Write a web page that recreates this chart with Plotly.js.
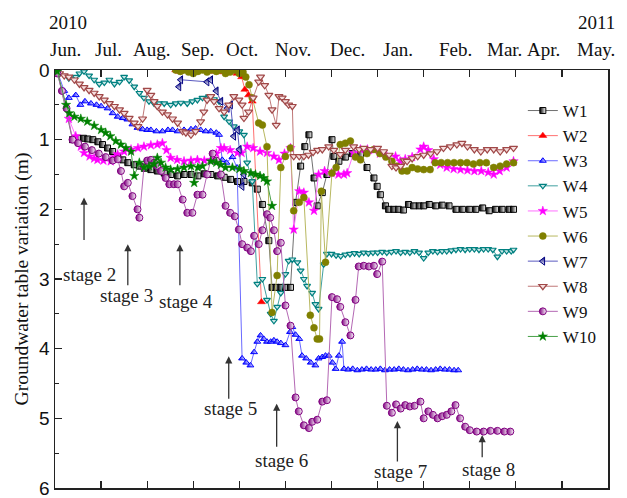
<!DOCTYPE html>
<html>
<head>
<meta charset="utf-8">
<script src="https://cdn.plot.ly/plotly-3.0.1.min.js"></script>
<style>
  html, body { margin: 0; padding: 0; background: #fff; }
  #chart { width: 627px; height: 498px; }
</style>
</head>
<body>
<div id="chart"></div>
<script>
// Groundwater table variation of wells W1-W10, June 2010 - May 2011.
// Time is measured in months after 1 June 2010; depth in metres below the initial level.

const monthLabels = ['Jun.', 'Jul.', 'Aug.', 'Sep.', 'Oct.', 'Nov.', 'Dec.', 'Jan.', 'Feb.', 'Mar.', 'Apr.', 'May.'];
const yearLabels = ['2010', '2011'];
const wellNames = ['W1', 'W2', 'W3', 'W4', 'W5', 'W6', 'W7', 'W8', 'W9', 'W10'];
const stageLabels = ['stage 2', 'stage 3', 'stage 4', 'stage 5', 'stage 6', 'stage 7', 'stage 8'];

const w1Month = [0.05,0.38,0.5,0.62,0.71,0.82,0.93,1.03,1.14,1.25,1.36,1.47,1.58,1.72,1.83,1.94,2.08,2.22,2.37,2.51,2.66,2.8,2.95,3.1,3.24,3.38,3.53,3.67,3.81,3.96,4.1,4.28,4.39,4.5,4.64,4.71,4.8,4.9,5.0,5.11,5.22,5.33,5.42,5.51,5.62,5.69,5.8,5.9,6.01,6.05,6.16,6.3,6.45,6.63,6.77,6.92,6.99,7.06,7.17,7.24,7.35,7.45,7.56,7.67,7.78,7.9,8.0,8.12,8.26,8.4,8.55,8.7,8.84,8.99,9.13,9.28,9.42,9.56,9.7,9.85,9.95];
const w1Depth = [0.02,1.0,0.98,0.98,0.99,1.0,1.03,1.07,1.12,1.17,1.24,1.29,1.33,1.36,1.38,1.41,1.43,1.45,1.48,1.5,1.52,1.5,1.5,1.52,1.49,1.5,1.52,1.54,1.57,1.6,1.6,1.62,1.71,1.93,2.45,3.12,3.12,3.12,3.12,3.12,1.9,1.38,1.1,0.93,1.55,1.95,1.76,1.5,1.0,1.24,1.31,1.25,1.2,1.21,1.4,1.55,1.67,1.79,1.95,2.0,2.0,2.0,2.01,1.93,1.95,1.95,1.95,1.93,1.95,1.94,1.95,2.0,2.0,2.0,2.0,1.98,2.02,2.0,2.0,2.0,2.0];

const w2Month = [2.62,2.7,2.78,2.86,2.95,3.05,3.15,3.25,3.35,3.45,3.55,3.65,3.75,3.85,3.95,4.05,4.12,4.2,4.28,4.48];
const w2Depth = [0.0,0.02,0.0,0.0,0.02,0.0,0.0,0.0,0.02,0.0,0.0,0.03,0.0,0.02,0.05,0.1,0.28,0.36,0.45,3.33];

const w3Month = [0.05,0.2,0.3,0.45,0.55,0.65,0.78,0.9,1.0,1.14,1.25,1.36,1.47,1.57,1.68,1.79,1.9,2.0,2.08,2.2,2.33,2.45,2.55,2.66,2.8,2.95,3.05,3.16,3.27,3.38,3.5,3.56,3.63,3.72,3.85,3.95,4.06,4.15,4.24,4.32,4.39,4.46,4.53,4.6,4.68,4.75,4.82,4.9,5.0,5.1,5.15,5.22,5.3,5.36,5.45,5.55,5.65,5.72,5.8,5.87,5.94,6.02,6.09,6.16,6.23,6.27,6.36,6.46,6.56,6.66,6.76,6.86,6.96,7.06,7.16,7.26,7.36,7.46,7.56,7.66,7.76,7.86,7.96,8.06,8.16,8.26,8.36,8.46,8.56,8.66,8.75];
const w3Depth = [0.02,0.3,0.4,0.36,0.5,0.45,0.48,0.5,0.52,0.55,0.62,0.67,0.69,0.71,0.78,0.83,0.85,0.86,0.86,0.88,0.88,0.86,0.86,0.88,0.86,0.85,0.84,0.86,0.88,0.88,0.9,0.93,1.29,1.33,1.25,1.4,4.14,4.2,4.24,4.05,3.9,3.81,3.86,3.9,3.9,3.88,3.9,3.92,3.95,3.76,3.69,3.8,3.86,4.1,4.14,4.2,4.24,4.14,4.12,4.1,4.1,4.2,4.29,4.1,3.9,4.29,4.3,4.29,4.31,4.3,4.29,4.3,4.3,4.29,4.31,4.3,4.3,4.29,4.3,4.31,4.3,4.29,4.3,4.3,4.31,4.3,4.29,4.3,4.3,4.31,4.31];

const w4Month = [0.05,0.3,0.45,0.53,0.63,0.74,0.85,0.96,1.07,1.18,1.29,1.4,1.5,1.61,1.72,1.83,1.93,2.04,2.15,2.26,2.37,2.51,2.62,2.73,2.87,2.98,3.09,3.2,3.34,3.45,3.56,3.67,3.78,3.88,4.0,4.1,4.17,4.28,4.39,4.5,4.6,4.68,4.75,4.82,4.9,5.0,5.07,5.15,5.26,5.33,5.4,5.47,5.58,5.65,5.72,5.83,5.9,6.0,6.1,6.2,6.3,6.4,6.5,6.6,6.7,6.8,6.9,7.0,7.1,7.2,7.3,7.4,7.5,7.6,7.7,7.8,7.9,8.0,8.1,8.2,8.3,8.4,8.5,8.6,8.7,8.8,8.9,9.0,9.1,9.2,9.3,9.4,9.5,9.6,9.7,9.8,9.9,9.95];
const w4Depth = [0.0,0.12,0.1,0.05,0.02,0.08,0.14,0.2,0.18,0.14,0.2,0.17,0.1,0.15,0.24,0.33,0.4,0.45,0.48,0.48,0.48,0.5,0.48,0.47,0.48,0.45,0.43,0.4,0.38,0.42,0.45,0.67,0.74,0.81,0.88,0.93,1.33,1.6,3.07,3.0,3.3,3.5,3.6,3.4,3.2,2.93,2.74,2.72,2.76,2.88,3.0,3.1,3.2,3.36,3.43,2.79,2.64,2.64,2.66,2.67,2.65,2.64,2.63,2.64,2.62,2.63,2.62,2.62,2.61,2.62,2.61,2.6,2.62,2.61,2.62,2.6,2.62,2.7,2.62,2.6,2.61,2.6,2.6,2.59,2.58,2.57,2.58,2.57,2.57,2.58,2.57,2.57,2.58,2.68,2.6,2.6,2.6,2.58];

const w5Month = [0.05,0.3,0.45,0.56,0.63,0.75,0.85,0.92,1.05,1.21,1.3,1.36,1.5,1.65,1.8,1.93,2.08,2.22,2.33,2.42,2.51,2.65,2.8,2.95,3.09,3.24,3.38,3.5,3.6,3.67,3.8,3.96,4.05,4.17,4.3,4.45,4.6,4.75,4.86,4.98,5.11,5.18,5.3,5.4,5.51,5.62,5.72,5.85,6.0,6.15,6.27,6.34,6.48,6.63,6.78,6.92,7.05,7.2,7.39,7.49,7.6,7.75,7.93,8.0,8.1,8.22,8.36,8.5,8.65,8.8,8.95,9.1,9.25,9.4,9.52,9.65,9.8,9.95];
const w5Depth = [0.02,0.7,0.95,1.1,1.19,1.24,1.27,1.29,1.3,1.31,1.25,1.21,1.17,1.14,1.12,1.1,1.08,1.07,1.05,1.15,1.26,1.29,1.31,1.3,1.29,1.3,1.29,1.2,1.12,1.12,1.15,1.19,1.19,1.1,1.12,1.17,1.19,1.24,1.29,1.2,1.12,2.29,1.74,1.76,1.9,2.02,1.5,1.45,1.48,1.5,1.5,1.48,1.19,1.14,1.14,1.15,1.2,1.24,1.24,1.31,1.28,1.25,1.14,1.1,1.15,1.28,1.36,1.4,1.42,1.43,1.44,1.45,1.45,1.47,1.5,1.45,1.4,1.31];

const w6Month = [2.62,2.72,2.8,2.9,3.0,3.1,3.2,3.3,3.4,3.5,3.6,3.7,3.8,3.9,4.0,4.08,4.14,4.21,4.28,4.42,4.5,4.6,4.71,4.82,4.9,5.0,5.11,5.18,5.3,5.4,5.54,5.62,5.69,5.74,5.78,5.87,6.01,6.1,6.19,6.3,6.41,6.52,6.63,6.77,6.92,7.05,7.18,7.31,7.42,7.53,7.64,7.75,7.87,8.0,8.14,8.25,8.38,8.52,8.66,8.8,8.94,9.08,9.22,9.36,9.52,9.66,9.8,9.95];
const w6Depth = [0.0,0.02,0.0,0.03,0.05,0.02,0.0,0.03,0.0,0.02,0.0,0.05,0.03,0.0,0.05,0.03,0.1,0.21,0.4,0.76,0.79,1.1,3.48,2.95,1.4,1.24,1.12,2.02,1.9,1.83,3.52,3.7,3.86,3.86,1.74,2.76,1.48,1.4,1.07,1.05,1.02,1.25,1.29,1.2,1.14,1.2,1.25,1.31,1.38,1.45,1.45,1.4,1.42,1.43,1.43,1.33,1.33,1.33,1.33,1.33,1.33,1.35,1.33,1.33,1.4,1.38,1.35,1.33];

const w7Month = [2.69,2.73,3.3,3.38,3.5,3.6,3.74,3.81,3.88,3.96,4.0,4.06,4.1];
const w7Depth = [0.24,0.14,0.17,0.14,0.3,0.45,0.55,0.5,0.95,0.86,1.14,1.67,1.5];

const w8Month = [0.0,0.1,0.2,0.3,0.42,0.53,0.63,0.74,0.85,0.96,1.07,1.18,1.29,1.4,1.5,1.61,1.72,1.8,1.9,2.0,2.08,2.15,2.22,2.33,2.44,2.55,2.66,2.77,2.84,2.95,3.05,3.16,3.23,3.3,3.38,3.45,3.56,3.67,3.77,3.88,3.99,4.06,4.1,4.2,4.3,4.42,4.46,4.55,4.64,4.71,4.8,4.86,4.93,5.0,5.07,5.15,5.18,5.3,5.4,5.5,5.6,5.7,5.8,5.94,6.05,6.19,6.3,6.48,6.6,6.7,6.85,7.0,7.13,7.25,7.31,7.4,7.5,7.58,7.64,7.75,7.87,8.0,8.15,8.29,8.43,8.58,8.72,8.83,8.95,9.1,9.24,9.38,9.52,9.66,9.8,9.95];
const w8Depth = [0.0,0.05,0.08,0.1,0.14,0.2,0.25,0.29,0.33,0.38,0.43,0.48,0.52,0.57,0.62,0.69,0.76,0.81,0.7,0.29,0.36,0.45,0.52,0.6,0.64,0.7,0.76,0.88,0.9,0.93,0.88,0.74,0.6,0.43,0.38,0.45,0.55,0.6,0.5,0.38,0.43,0.5,0.69,0.6,0.4,0.17,0.1,0.22,0.36,0.57,0.79,0.38,0.4,0.45,0.5,0.52,1.24,1.24,1.24,1.22,1.18,1.15,1.14,1.1,1.15,1.21,1.15,1.1,1.14,1.12,1.14,1.12,1.17,1.22,1.38,1.4,1.38,1.3,1.31,1.27,1.24,1.22,1.2,1.17,1.12,1.1,1.07,1.05,1.1,1.14,1.17,1.14,1.14,1.17,1.14,1.12];

const w9Month = [0.05,0.15,0.25,0.38,0.5,0.65,0.8,0.95,1.1,1.25,1.36,1.43,1.5,1.58,1.68,1.79,1.83,1.93,2.0,2.08,2.15,2.22,2.3,2.4,2.48,2.58,2.66,2.77,2.87,2.98,3.09,3.2,3.3,3.42,3.5,3.6,3.7,3.8,3.9,3.99,4.06,4.17,4.25,4.32,4.42,4.5,4.6,4.67,4.75,4.82,4.9,5.0,5.11,5.22,5.29,5.4,5.51,5.58,5.69,5.8,5.9,6.01,6.12,6.19,6.3,6.41,6.52,6.59,6.7,6.81,6.92,6.99,7.1,7.2,7.31,7.4,7.5,7.6,7.7,7.8,7.93,8.0,8.1,8.2,8.3,8.4,8.5,8.6,8.69,8.79,8.9,9.0,9.15,9.3,9.45,9.6,9.75,9.88];
const w9Depth = [0.05,0.3,0.55,1.0,1.05,1.1,1.15,1.2,1.25,1.3,1.28,1.45,1.67,1.62,1.81,2.0,2.12,1.4,1.3,1.29,1.33,1.38,1.45,1.55,1.64,1.64,1.64,1.86,2.05,2.05,1.79,1.79,1.5,1.2,1.3,1.5,1.95,2.05,2.1,2.29,2.5,2.55,2.6,2.38,2.5,2.3,2.07,2.12,2.3,2.6,2.48,3.38,3.67,4.7,4.9,5.1,5.14,5.05,5.02,4.76,4.74,3.26,3.29,3.4,3.62,3.81,3.3,2.82,2.81,2.82,2.81,2.93,2.75,4.82,4.92,4.8,4.86,4.81,4.83,4.82,4.76,5.0,4.9,4.95,5.0,4.97,4.95,4.9,4.81,5.0,5.12,5.17,5.19,5.19,5.18,5.18,5.19,5.19];

const w10Month = [0.05,0.24,0.31,0.42,0.56,0.7,0.85,1.0,1.1,1.2,1.32,1.43,1.54,1.65,1.72,1.83,1.93,2.04,2.15,2.22,2.3,2.4,2.51,2.66,2.8,2.95,3.02,3.1,3.2,3.38,3.5,3.6,3.7,3.85,4.0,4.1,4.25,4.35,4.45,4.53,4.6,4.71];
const w10Depth = [0.02,0.5,0.62,0.67,0.7,0.74,0.8,0.86,0.9,0.95,1.02,1.07,1.12,1.17,1.52,1.33,1.4,1.38,1.35,1.26,1.33,1.4,1.43,1.42,1.4,1.38,1.62,1.4,1.38,1.31,1.33,1.36,1.4,1.4,1.42,1.45,1.48,1.5,1.52,1.55,1.6,1.95];

// Stage markers: month at which each arrow stands, arrow tip/tail depth, label position
const stageMonth = [0.63, 1.58, 2.71, 3.77, 4.81, 7.43, 9.27];
const stageTip   = [1.83, 2.50, 2.50, 4.11, 4.79, 5.04, 5.24];
const stageTail  = [2.46, 3.11, 3.11, 4.74, 5.43, 5.64, 5.58];
const stageTextMonth = [0.74, 1.56, 2.84, 3.81, 4.92, 7.49, 9.40];
const stageTextDepth = [2.93, 3.24, 3.33, 4.86, 5.60, 5.76, 5.74];

// Positions of the month names along the top edge (in months)
const monthLabelPos = [0.22, 1.15, 2.1, 3.1, 4.05, 5.16, 6.35, 7.45, 8.7, 9.75, 10.6, 11.74];
const yearLabelPos = [0.28, 11.76];

const seriesX = [w1Month, w2Month, w3Month, w4Month, w5Month, w6Month, w7Month, w8Month, w9Month, w10Month];
const seriesY = [w1Depth, w2Depth, w3Depth, w4Depth, w5Depth, w6Depth, w7Depth, w8Depth, w9Depth, w10Depth];

const styles = [
  { line: '#707070', marker: { symbol: 'square', size: 6, color: '#000000', gradient: { type: 'horizontal', color: '#ffffff' }, line: { color: '#000000', width: 1 } } },
  { line: '#ff7070', marker: { symbol: 'triangle-up', size: 7, color: '#ff0000', line: { color: '#ff0000', width: 0.5 } } },
  { line: '#6a6aff', marker: { symbol: 'triangle-up', size: 6, color: '#0000ff', gradient: { type: 'horizontal', color: '#ffffff' }, line: { color: '#0000ff', width: 1 } } },
  { line: '#40a0a0', marker: { symbol: 'triangle-down', size: 6, color: '#c8e6e6', line: { color: '#008080', width: 1.2 } } },
  { line: '#ff70ff', marker: { symbol: 'star', size: 7, color: '#ff00ff', line: { color: '#ff00ff', width: 0.5 } } },
  { line: '#b8b860', marker: { symbol: 'circle', size: 7, color: '#808000', line: { color: '#808000', width: 0.5 } } },
  { line: '#5a5ac0', marker: { symbol: 'triangle-left', size: 7, color: '#000080', gradient: { type: 'vertical', color: '#ffffff' }, line: { color: '#000080', width: 1 } } },
  { line: '#c07878', marker: { symbol: 'triangle-down', size: 7, color: '#f6dede', line: { color: '#a04848', width: 1.2 } } },
  { line: '#b468b4', marker: { symbol: 'circle', size: 7, color: '#800080', gradient: { type: 'horizontal', color: '#ffffff' }, line: { color: '#800080', width: 1 } } },
  { line: '#48a048', marker: { symbol: 'star', size: 7, color: '#008000', line: { color: '#008000', width: 0.5 } } }
];

const traces = wellNames.map((name, i) => ({
  type: 'scatter',
  mode: 'lines+markers',
  name: name,
  x: seriesX[i],
  y: seriesY[i],
  line: { color: styles[i].line, width: 1 },
  marker: styles[i].marker,
  cliponaxis: true
}));

const serif = "'Liberation Serif', 'Times New Roman', Times, serif";
const sans = "'Liberation Sans', Arial, Helvetica, sans-serif";
const annotations = [];

monthLabels.forEach((t, i) => annotations.push({
  x: monthLabelPos[i], xref: 'x', y: 1.048, yref: 'paper',
  text: t, showarrow: false, xanchor: 'center', yanchor: 'middle',
  font: { family: serif, size: 19, color: '#111' }
}));
yearLabels.forEach((t, i) => annotations.push({
  x: yearLabelPos[i], xref: 'x', y: 1.114, yref: 'paper',
  text: t, showarrow: false, xanchor: 'center', yanchor: 'middle',
  font: { family: serif, size: 19, color: '#111' }
}));
stageLabels.forEach((t, i) => {
  annotations.push({
    x: stageMonth[i], y: stageTip[i], xref: 'x', yref: 'y',
    ax: stageMonth[i], ay: stageTail[i], axref: 'x', ayref: 'y',
    text: '', showarrow: true, arrowhead: 2, arrowsize: 1.1, arrowwidth: 1.3, arrowcolor: '#333'
  });
  annotations.push({
    x: stageTextMonth[i], y: stageTextDepth[i], xref: 'x', yref: 'y',
    text: t, showarrow: false, xanchor: 'center', yanchor: 'middle',
    font: { family: serif, size: 19, color: '#222' }
  });
});

const layout = {
  width: 627, height: 498,
  margin: { l: 55, r: 19, t: 70, b: 10, pad: 0 },
  paper_bgcolor: '#ffffff', plot_bgcolor: '#ffffff',
  showlegend: true,
  legend: {
    x: 0.846, y: 0.945, xanchor: 'left', yanchor: 'top',
    bgcolor: 'rgba(0,0,0,0)', borderwidth: 0,
    font: { family: serif, size: 17, color: '#111' },
    tracegroupgap: 0, itemwidth: 30
  },
  xaxis: {
    range: [0, 12], tickmode: 'linear', tick0: 0, dtick: 1,
    ticks: 'inside', ticklen: 7, tickwidth: 1.3, tickcolor: '#222',
    showticklabels: false, showgrid: false, zeroline: false,
    showline: true, linecolor: '#222', linewidth: 1.5, mirror: 'ticks'
  },
  yaxis: {
    range: [6, 0], tickmode: 'array', tickvals: [0, 1, 2, 3, 4, 5, 6],
    ticks: 'inside', ticklen: 7, tickwidth: 1.3, tickcolor: '#222',
    minor: { dtick: 0.5, ticks: 'inside', ticklen: 4, tickwidth: 1.1, tickcolor: '#222' },
    tickfont: { family: sans, size: 19, color: '#111' },
    ticklabeloverflow: 'allow',
    showgrid: false, zeroline: false,
    showline: true, linecolor: '#222', linewidth: 1.5, mirror: true,
    title: { text: 'Groundwater table variation (m)', font: { family: serif, size: 19.5, color: '#111' }, standoff: 5 }
  },
  annotations: annotations
};

Plotly.newPlot('chart', traces, layout, { displayModeBar: false, staticPlot: true });
</script>
</body>
</html>
